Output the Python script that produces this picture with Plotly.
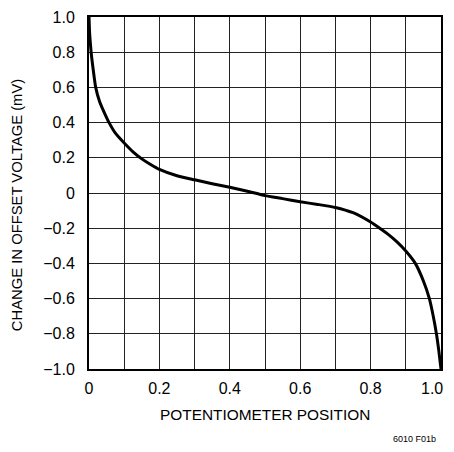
import plotly.graph_objects as go

# potentiometer position vs change in offset voltage (mV)
pos = [0, 0.002, 0.006, 0.012, 0.019, 0.03, 0.045, 0.057, 0.075, 0.1,
       0.125, 0.15, 0.175, 0.2, 0.25, 0.3, 0.35, 0.4, 0.45, 0.5,
       0.55, 0.6, 0.65, 0.7, 0.75, 0.8, 0.826, 0.85, 0.875, 0.9,
       0.927, 0.95, 0.967, 0.978, 0.987, 0.994, 1.0]
dvos = [1.0, 0.9, 0.8, 0.7, 0.6, 0.52, 0.45, 0.4, 0.34, 0.284,
        0.234, 0.194, 0.162, 0.134, 0.098, 0.075, 0.053, 0.033, 0.01, -0.015,
        -0.032, -0.05, -0.065, -0.082, -0.112, -0.165, -0.2, -0.235, -0.278, -0.33,
        -0.4, -0.5, -0.6, -0.7, -0.8, -0.9, -1.0]

x_ticks = [0, 0.1, 0.2, 0.3, 0.4, 0.5, 0.6, 0.7, 0.8, 0.9, 1.0]
# trailing nbsp nudges the last label left so the page edge doesn't cut it
x_labels = ["0", "", "0.2", "", "0.4", "", "0.6", "", "0.8", "", "1.0\u00a0\u00a0\u00a0\u00a0"]
y_ticks = [1.0, 0.8, 0.6, 0.4, 0.2, 0, -0.2, -0.4, -0.6, -0.8, -1.0]
y_labels = ["1.0", "0.8", "0.6", "0.4", "0.2", "0", "−0.2", "−0.4", "−0.6", "−0.8", "−1.0"]

FONT = "Liberation Sans, Arial, sans-serif"

fig = go.Figure()
fig.add_trace(go.Scatter(
    x=pos, y=dvos, mode="lines",
    line=dict(color="black", width=3, shape="spline", smoothing=0.5),
    showlegend=False, hoverinfo="skip",
))

fig.update_xaxes(
    range=[0, 1], tickvals=x_ticks, ticktext=x_labels,
    showgrid=True, gridcolor="#222", gridwidth=1,
    showline=True, linecolor="black", linewidth=2, mirror=True,
    zeroline=False, ticks="", ticklabelstandoff=4, automargin=False,
    ticklabeloverflow="allow",
)
fig.update_yaxes(
    range=[-1, 1], tickvals=y_ticks, ticktext=y_labels,
    showgrid=True, gridcolor="#222", gridwidth=1,
    showline=True, linecolor="black", linewidth=2, mirror=True,
    zeroline=False, ticks="", ticklabelstandoff=9, automargin=False,
    ticklabeloverflow="allow",
)

# axis titles as annotations so they sit where the original has them
fig.add_annotation(
    text="CHANGE IN OFFSET VOLTAGE (mV)", textangle=-90,
    xref="paper", yref="paper", x=-0.205, y=0.465,
    xanchor="center", yanchor="middle", showarrow=False,
    font=dict(size=14.8),
)
fig.add_annotation(
    text="POTENTIOMETER POSITION",
    xref="paper", yref="paper", x=0.5, y=-0.129,
    xanchor="center", yanchor="middle", showarrow=False,
    font=dict(size=15.4),
)
fig.add_annotation(
    text="6010 F01b",
    xref="paper", yref="paper", x=0.991, y=-0.2,
    xanchor="right", yanchor="middle", showarrow=False,
    font=dict(size=9),
)

# page body adds an 8px offset, so the figure is sized to fit inside it
fig.update_layout(
    width=446, height=436,
    margin=dict(l=81, r=13, t=9, b=75),
    plot_bgcolor="white", paper_bgcolor="white",
    font=dict(family=FONT, size=16, color="black"),
)

fig.write_html("out.html")
